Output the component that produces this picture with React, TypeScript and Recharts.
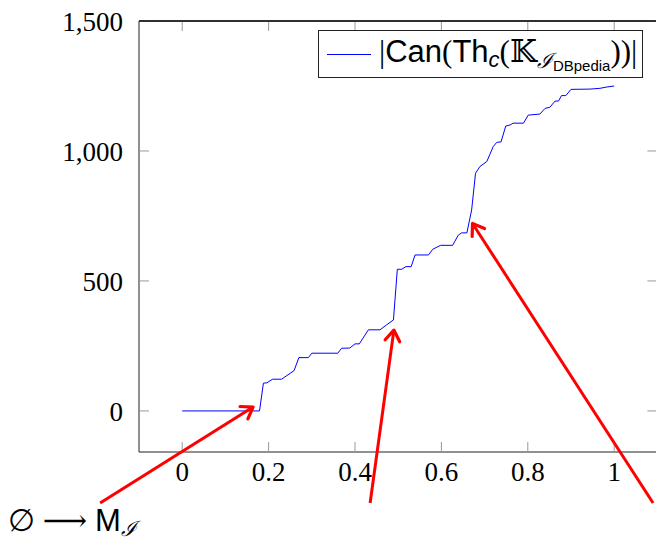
import React from 'react';
import { LineChart, Line, XAxis, YAxis, Legend, ReferenceLine, ReferenceArea } from 'recharts';

// values
const xValues = [
  0, 0.179, 0.188, 0.196, 0.209, 0.23, 0.259, 0.27, 0.292, 0.3, 0.36, 0.369, 0.388, 0.4,
  0.41, 0.431, 0.458, 0.473, 0.489, 0.498, 0.508, 0.518, 0.53, 0.539, 0.57, 0.58, 0.598,
  0.626, 0.639, 0.647, 0.659, 0.67, 0.679, 0.689, 0.705, 0.72, 0.728, 0.738, 0.749, 0.759,
  0.766, 0.79, 0.801, 0.828, 0.84, 0.851, 0.863, 0.871, 0.878, 0.888, 0.9, 0.944, 0.967,
  0.983, 1.0,
];
const canValues = [
  0, 0, 107, 108, 122, 122, 155, 205, 205, 222, 222, 241, 242, 258, 258, 312, 312, 331, 350,
  545, 545, 555, 555, 600, 600, 622, 637, 637, 676, 685, 685, 773, 914, 940, 959, 1017, 1033,
  1035, 1096, 1100, 1107, 1107, 1138, 1142, 1164, 1168, 1192, 1192, 1213, 1213, 1237, 1238,
  1241, 1246, 1250,
];
const xTicks = [0, 0.2, 0.4, 0.6, 0.8, 1];
const yTicks = [0, 500, 1000, 1500];
const xDomain = [-0.1, 1.1];
const yDomain = [-158, 1500];

// annotation arrows, in data units: tail first, head second
const arrowTails = [
  { x: -0.19, y: -354 },
  { x: 0.435, y: -354 },
  { x: 1.09, y: -354 },
];
const arrowHeads = [
  { x: 0.164, y: 15 },
  { x: 0.49, y: 311 },
  { x: 0.672, y: 721 },
];

const data = xValues.map((x, i) => ({ x, can: canValues[i] }));

const serif = '"Liberation Serif", "DejaVu Serif", serif';
const sans = '"Liberation Sans", "DejaVu Sans", sans-serif';
const TICK = 10;

const ArrowShape = (props: any) => {
  const { x1, y1, x2, y2 } = props;
  const ang = Math.atan2(y2 - y1, x2 - x1);
  const len = 13;
  const spread = 0.6;
  const ax = x2 - len * Math.cos(ang - spread);
  const ay = y2 - len * Math.sin(ang - spread);
  const bx = x2 - len * Math.cos(ang + spread);
  const by = y2 - len * Math.sin(ang + spread);
  return (
    <g>
      <line x1={x1} y1={y1} x2={x2} y2={y2} stroke="#ff0000" strokeWidth={3} />
      <path
        d={`M${ax},${ay} L${x2},${y2} L${bx},${by}`}
        fill="none"
        stroke="#ff0000"
        strokeWidth={3.2}
        strokeLinecap="round"
        strokeLinejoin="round"
      />
    </g>
  );
};

// inward tick marks at both ends of a reference line
const XTickMarks = (props: any) => {
  const top = Math.min(props.y1, props.y2);
  const bottom = Math.max(props.y1, props.y2);
  return (
    <g stroke="#999" strokeWidth={1}>
      <line x1={props.x1} x2={props.x1} y1={top} y2={top + TICK} />
      <line x1={props.x1} x2={props.x1} y1={bottom} y2={bottom - TICK} />
    </g>
  );
};
const YTickMarks = (props: any) => {
  const left = Math.min(props.x1, props.x2);
  const right = Math.max(props.x1, props.x2);
  return (
    <g stroke="#999" strokeWidth={1}>
      <line y1={props.y1} y2={props.y1} x1={left} x2={left + TICK} />
      <line y1={props.y1} y2={props.y1} x1={right} x2={right - TICK} />
    </g>
  );
};

// plain frame edge, drawn straight from the reference line end points
const FrameEdge = (props: any) => (
  <line x1={props.x1} y1={props.y1} x2={props.x2} y2={props.y2} stroke="#111" strokeWidth={1.3} />
);

const LegendBox = () => (
  <div
    style={{
      width: 325,
      height: 48,
      boxSizing: 'border-box',
      border: '1px solid #222',
      background: '#fff',
      display: 'flex',
      alignItems: 'center',
      whiteSpace: 'nowrap',
    }}
  >
    <div style={{ width: 44, height: 0, borderTop: '1px solid #0000ff', marginLeft: 8, marginRight: 8 }} />
    <span style={{ fontSize: 31, lineHeight: 1, color: '#000' }}>
      <span style={{ fontFamily: serif }}>|</span>
      <span style={{ fontFamily: sans }}>Can</span>
      <span style={{ fontFamily: serif }}>(</span>
      <span style={{ fontFamily: sans }}>Th</span>
      <sub style={{ fontFamily: sans, fontStyle: 'italic', fontSize: 22, verticalAlign: -5 }}>c</sub>
      <span style={{ fontFamily: serif }}>(𝕂</span>
      <sub style={{ fontFamily: serif, fontStyle: 'italic', fontSize: 21, verticalAlign: -6 }}>
        ℐ<sub style={{ fontFamily: sans, fontStyle: 'normal', fontSize: 15, verticalAlign: -3 }}>DBpedia</sub>
      </sub>
      <span style={{ fontFamily: serif }}>))|</span>
    </span>
  </div>
);

export default function App() {
  return (
    <div style={{ position: 'absolute', left: 0, top: 0, width: 656, height: 541, overflow: 'hidden', background: '#fff' }}>
      <LineChart width={700} height={541} data={data} margin={{ top: 21, right: 42.6, left: 0, bottom: 59 }}>
        <XAxis
          dataKey="x"
          type="number"
          domain={xDomain}
          ticks={xTicks}
          allowDataOverflow
          height={30}
          tickSize={0}
          tickMargin={10}
          axisLine={false}
          tickLine={false}
          tick={{ fill: '#000', fontSize: 27, fontFamily: serif }}
        />
        <YAxis
          type="number"
          domain={yDomain}
          ticks={yTicks}
          allowDataOverflow
          width={139}
          tickSize={0}
          tickMargin={16}
          tickFormatter={(v: number) => v.toLocaleString('en-US')}
          axisLine={false}
          tickLine={false}
          tick={{ fill: '#000', fontSize: 27, fontFamily: serif }}
        />
        <Legend
          layout="vertical"
          align="center"
          verticalAlign="middle"
          wrapperStyle={{ left: 318, top: 30, width: 325 }}
          content={() => <LegendBox />}
        />
        {xTicks.map((t) => (
          <ReferenceLine key={'xt' + t} x={t} shape={XTickMarks} />
        ))}
        {yTicks.map((t) => (
          <ReferenceLine key={'yt' + t} y={t} shape={YTickMarks} />
        ))}
        <ReferenceArea
          x1={xDomain[0]}
          x2={xDomain[1]}
          y1={yDomain[0]}
          y2={yDomain[1]}
          fill="none"
          stroke="#222"
          strokeWidth={1}
          ifOverflow="visible"
        />
        <ReferenceLine y={yDomain[1]} ifOverflow="visible" shape={FrameEdge} />
        <Line
          type="linear"
          dataKey="can"
          stroke="#0000ff"
          strokeWidth={1}
          dot={false}
          isAnimationActive={false}
        />
        {arrowTails.map((t, i) => (
          <ReferenceLine
            key={i}
            segment={[t, arrowHeads[i]]}
            ifOverflow="visible"
            shape={ArrowShape}
          />
        ))}
      </LineChart>
      <div
        style={{
          position: 'absolute',
          left: 8,
          top: 505,
          fontSize: 31,
          lineHeight: 1,
          whiteSpace: 'nowrap',
          color: '#000',
        }}
      >
        <span style={{ fontFamily: serif }}>∅ ⟶ </span>
        <span style={{ fontFamily: sans }}>M</span>
        <sub style={{ fontFamily: serif, fontStyle: 'italic', fontSize: 21, verticalAlign: -5 }}>ℐ</sub>
      </div>
    </div>
  );
}
